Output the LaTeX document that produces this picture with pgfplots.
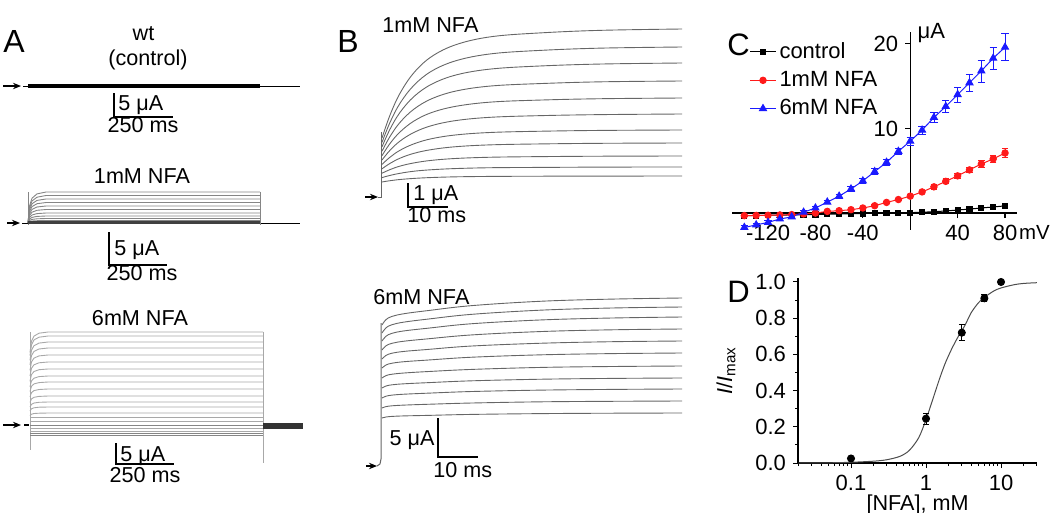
\documentclass[border=0pt]{standalone}
\usepackage{pgfplots}
\pgfplotsset{compat=1.18}
\usepackage{pgfplotstable}
\usepackage{fontspec}
\setmainfont{Liberation Sans}
\usetikzlibrary{arrows.meta}

\definecolor{trA}{HTML}{858585}
\definecolor{trAl}{HTML}{A8A8A8}
\definecolor{trB}{HTML}{666666}
\definecolor{ivred}{HTML}{FF1A1A}
\definecolor{ivblue}{HTML}{1A1AFF}

\newcommand{\ft}{\fontsize{10.8}{13}\selectfont}
\newcommand{\fk}{\fontsize{11}{13}\selectfont}
\newcommand{\fl}{\fontsize{16}{19}\selectfont}

% panel C: I-V curves (mV, uA)
\pgfplotstableread{
V    ctl    rm     re    bm     be
-140 -0.30 -0.30 0.05 -1.70 0.20
-130 -0.28 -0.28 0.05 -1.40 0.20
-120 -0.26 -0.26 0.05 -1.10 0.20
-110 -0.24 -0.22 0.05 -0.70 0.20
-100 -0.22 -0.18 0.05 -0.45 0.20
-90  -0.20 -0.10 0.05  0.10 0.20
-80  -0.17  0.00 0.05  0.60 0.20
-70  -0.14  0.20 0.05  1.30 0.20
-60  -0.11  0.28 0.05  2.00 0.25
-50  -0.08  0.40 0.05  2.85 0.30
-40  -0.05  0.60 0.05  3.80 0.30
-30  -0.02  0.87 0.10  4.90 0.35
-20   0.00  1.26 0.10  6.00 0.40
-10   0.02  1.60 0.15  7.30 0.40
0     0.05  2.00 0.20  8.50 0.50
10    0.10  2.50 0.20  9.80 0.50
20    0.16  3.10 0.25 11.30 0.60
30    0.25  3.75 0.30 12.60 0.70
40    0.36  4.40 0.30 14.00 0.90
50    0.47  5.10 0.35 15.40 1.00
60    0.60  5.80 0.40 16.80 1.30
70    0.72  6.40 0.45 18.30 1.30
80    0.85  7.10 0.50 19.60 1.60
}\ivdata

% panel D: dose response
\pgfplotstableread{
c    y     e
0.1  0.025 0.005
1    0.245 0.030
3    0.720 0.045
6    0.910 0.020
10   1.000 0.010
}\dosedata
\pgfplotstableread{
c    y
0.02 0.000
0.05 0.001
0.1  0.004
0.2  0.010
0.3  0.018
0.45 0.037
0.6  0.070
0.8  0.140
1.0  0.240
1.25 0.360
1.5  0.460
1.8  0.550
2.2  0.630
2.7  0.700
3.3  0.760
4.0  0.830
5.0  0.885
6.0  0.915
8.0  0.950
10   0.967
15   0.985
20   0.992
30   0.996
}\fitdata

\pgfplotsset{
  trA/.style={no marks, color=trA, line width=0.45pt},
  trAl/.style={no marks, color=trAl, line width=0.45pt},
  trB/.style={no marks, smooth, tension=0.6, color=trB, line width=0.45pt},
  bar/.style={no marks, black, line width=0.6pt},
  arr/.style={no marks, black, line width=0.6pt, -{Stealth[length=4pt,width=3.2pt]}},
}

\begin{document}
\begin{tikzpicture}
\useasboundingbox (0,0) rectangle (525pt,-256.5pt);

% canvas in pixel units for the trace panels A and B
\begin{axis}[
  at={(0,0)}, anchor=north west,
  scale only axis, width=525pt, height=256.5pt,
  xmin=0, xmax=1050, ymin=0, ymax=513, y dir=reverse,
  hide axis, clip=false,
]
% ---------- A: wt control ----------
\addplot[arr] coordinates {(3,86) (21,86)};
\addplot[no marks, black, line width=0.4pt] coordinates {(23,86) (300,86)};
\addplot[no marks, black, line width=2pt] coordinates {(28,85.5) (260,85.5)};
\addplot[bar] coordinates {(114,93) (114,117) (173,117)};

% ---------- A: 1mM NFA ----------
\addplot[arr] coordinates {(7,223) (20,223)};
\addplot[no marks, black, line width=0.4pt] coordinates {(22,223) (300,223)};
\addplot[trA] coordinates {(28,192) (28,225)};
\addplot[trA] coordinates {(260,192) (260,225)};
\addplot[trA] coordinates {(28,223) (29.5,206) (32,198.2) (37,193.9) (46,192) (260,192)};
\addplot[trA] coordinates {(28,223) (29.5,207.9) (32,201) (37,197.2) (46,195.5) (260,195.5)};
\addplot[trA] coordinates {(28,223) (29.5,209.8) (32,203.8) (37,200.4) (46,199) (260,199)};
\addplot[trA] coordinates {(28,223) (29.5,211.7) (32,206.6) (37,203.7) (46,202.5) (260,202.5)};
\addplot[trA] coordinates {(28,223) (29.5,213.7) (32,209.4) (37,207) (46,206) (260,206)};
\addplot[trA] coordinates {(28,223) (29.5,215.6) (32,212.2) (37,210.3) (46,209.5) (260,209.5)};
\addplot[trA] coordinates {(28,223) (29.5,217.5) (32,215) (37,213.6) (46,213) (260,213)};
\addplot[trA] coordinates {(28,223) (29.5,219.2) (32,217.4) (37,216.4) (46,216) (260,216)};
\addplot[trA] coordinates {(28,223) (29.5,220.5) (32,219.4) (37,218.8) (46,218.5) (260,218.5)};
\addplot[trA] coordinates {(28,223) (29.5,221.6) (32,221) (37,220.7) (46,220.5) (260,220.5)};
\addplot[no marks, color=black!75, line width=1.2pt] coordinates {(28,222.5) (260,222.5)};
\addplot[bar] coordinates {(109,232) (109,265) (167,265)};

% ---------- A: 6mM NFA ----------
\addplot[arr] coordinates {(3,425) (21,425)};
\addplot[no marks, black, line width=1.4pt] coordinates {(24,425) (29,425)};
\addplot[trAl] coordinates {(30,332) (30,450)};
\addplot[trAl] coordinates {(263,332) (263,463)};
\addplot[trAl] coordinates {(30,352.5) (31.5,341.2) (34,336.1) (39,333.2) (48,332) (263,332)};
\addplot[trAl] coordinates {(30,355.6) (31.5,344.8) (34,339.9) (39,337.2) (48,336) (263,336)};
\addplot[trAl] coordinates {(30,360.3) (31.5,350.2) (34,345.7) (39,343.1) (48,342) (263,342)};
\addplot[trAl] coordinates {(30,364.9) (31.5,355.6) (34,351.4) (39,349) (48,348) (263,348)};
\addplot[trAl] coordinates {(30,370.4) (31.5,361.9) (34,358.1) (39,355.9) (48,355) (263,355)};
\addplot[trAl] coordinates {(30,375.9) (31.5,368.2) (34,364.8) (39,362.8) (48,362) (263,362)};
\addplot[trAl] coordinates {(30,381.3) (31.5,374.5) (34,371.5) (39,369.7) (48,369) (263,369)};
\addplot[trAl] coordinates {(30,386.8) (31.5,380.9) (34,378.2) (39,376.6) (48,376) (263,376)};
\addplot[trAl] coordinates {(30,391.5) (31.5,386.3) (34,383.9) (39,382.6) (48,382) (263,382)};
\addplot[trAl] coordinates {(30,396.9) (31.5,392.6) (34,390.6) (39,389.5) (48,389) (263,389)};
\addplot[trAl] coordinates {(30,402.4) (31.5,398.9) (34,397.3) (39,396.4) (48,396) (263,396)};
\addplot[trAl] coordinates {(30,407.1) (31.5,404.3) (34,403) (39,402.3) (48,402) (263,402)};
\addplot[trAl] coordinates {(30,411) (31.5,408.8) (34,407.8) (39,407.2) (48,407) (263,407)};
\addplot[trAl] coordinates {(30,415.6) (31.5,414.2) (34,413.5) (39,413.2) (48,413) (263,413)};
\addplot[trAl] coordinates {(30,417) (263,417)};
\addplot[trAl] coordinates {(30,421) (263,421)};
\addplot[trA] coordinates {(30,425) (263,425)};
\addplot[trAl] coordinates {(30,428) (263,428)};
\addplot[trAl] coordinates {(30,431) (263,431)};
\addplot[trA] coordinates {(30,433) (263,433)};
\addplot[trA] coordinates {(30,435) (263,435)};
\addplot[no marks, color=black!80, line width=3pt] coordinates {(263,426) (303,426)};
\addplot[bar] coordinates {(116,443) (116,464) (174,464)};

% ---------- B: 1mM NFA ----------
\addplot[arr] coordinates {(365,197) (378,197)};
\addplot[no marks, color=trB, line width=0.5pt] coordinates {(378,197) (381,197) (381,132)};
\addplot[trB] coordinates {(382,138) (390,115.1) (400,93.3) (414,72.6) (432,56.3) (457,44.3) (492,36.6) (542,32.8) (602,30.3) (682,29)};
\addplot[trB] coordinates {(382,142.4) (390,122.4) (400,103.3) (414,85.2) (432,70.9) (457,60.4) (492,53.7) (542,50.3) (602,48.1) (682,47)};
\addplot[trB] coordinates {(382,146.8) (390,129.2) (400,112.4) (414,96.5) (432,84) (457,74.7) (492,68.9) (542,65.9) (602,64) (682,63)};
\addplot[trB] coordinates {(382,151.2) (390,136.5) (400,122.4) (414,109.1) (432,98.6) (457,90.8) (492,85.9) (542,83.5) (602,81.8) (682,81)};
\addplot[trB] coordinates {(382,155.6) (390,143.5) (400,132) (414,121) (432,112.4) (457,106.1) (492,102) (542,100) (602,98.7) (682,98)};
\addplot[trB] coordinates {(382,160) (390,150.3) (400,141.1) (414,132.4) (432,125.5) (457,120.4) (492,117.2) (542,115.6) (602,114.6) (682,114)};
\addplot[trB] coordinates {(382,164.4) (390,157.2) (400,150.3) (414,143.8) (432,138.6) (457,134.8) (492,132.4) (542,131.2) (602,130.4) (682,130)};
\addplot[trB] coordinates {(382,168.8) (390,163.4) (400,158.2) (414,153.3) (432,149.5) (457,146.6) (492,144.8) (542,143.9) (602,143.3) (682,143)};
\addplot[trB] coordinates {(382,173.2) (390,169.6) (400,166.1) (414,162.9) (432,160.3) (457,158.4) (492,157.2) (542,156.6) (602,156.2) (682,156)};
\addplot[trB] coordinates {(382,177.6) (390,175.4) (400,173.3) (414,171.2) (432,169.7) (457,168.5) (492,167.7) (542,167.4) (602,167.1) (682,167)};
\addplot[trB] coordinates {(382,182) (390,180.7) (400,179.5) (414,178.4) (432,177.5) (457,176.8) (492,176.4) (542,176.2) (602,176.1) (682,176)};
\addplot[bar] coordinates {(408,183) (408,207) (448,207)};

% ---------- B: 6mM NFA ----------
\addplot[arr] coordinates {(366,466) (377,466)};
\addplot[no marks, color=trB, line width=0.5pt] coordinates {(377,466) (380,464) (381,459) (381,323)};
\addplot[trB] coordinates {(382,325) (386,319.6) (392,316.4) (404,313.7) (427,310.7) (472,305.6) (542,301.2) (612,299.1) (682,298)};
\addplot[trB] coordinates {(382,333) (386,327.8) (392,324.7) (404,322.1) (427,319.2) (472,314.3) (542,310.1) (612,308) (682,307)};
\addplot[trB] coordinates {(382,341) (386,336.2) (392,333.3) (404,330.9) (427,328.3) (472,323.7) (542,319.9) (612,318) (682,317)};
\addplot[trB] coordinates {(382,350) (386,345.8) (392,343.3) (404,341.2) (427,338.9) (472,334.9) (542,331.5) (612,329.8) (682,329)};
\addplot[trB] coordinates {(382,359) (386,355.4) (392,353.2) (404,351.4) (427,349.5) (472,346) (542,343.2) (612,341.7) (682,341)};
\addplot[trB] coordinates {(382,368) (386,365) (392,363.2) (404,361.7) (427,360.1) (472,357.2) (542,354.8) (612,353.6) (682,353)};
\addplot[trB] coordinates {(382,378) (386,375.6) (392,374.2) (404,373) (427,371.6) (472,369.4) (542,367.4) (612,366.5) (682,366)};
\addplot[trB] coordinates {(382,388) (386,386) (392,384.8) (404,383.8) (427,382.7) (472,380.8) (542,379.2) (612,378.4) (682,378)};
\addplot[trB] coordinates {(382,398) (386,396.2) (392,395.1) (404,394.2) (427,393.2) (472,391.5) (542,390.1) (612,389.4) (682,389)};
\addplot[trB] coordinates {(382,408) (386,406.6) (392,405.8) (404,405.1) (427,404.3) (472,403) (542,401.8) (612,401.3) (682,401)};
\addplot[trB] coordinates {(382,418) (386,417) (392,416.4) (404,415.9) (427,415.4) (472,414.4) (542,413.6) (612,413.2) (682,413)};
\addplot[bar] coordinates {(438,418) (438,457) (478,457)};

% ---------- texts ----------
\begin{scope}[every node/.style={inner sep=0pt, font=\ft}]
\node[anchor=base west, font=\fl] at (axis cs:3,52) {A};
\node[anchor=base] at (axis cs:143.5,40) {wt};
\node[anchor=base] at (axis cs:148,65) {(control)};
\node[anchor=base west] at (axis cs:118,110) {5 μA};
\node[anchor=base] at (axis cs:143,132) {250 ms};
\node[anchor=base] at (axis cs:142,183) {1mM NFA};
\node[anchor=base west] at (axis cs:114,255) {5 μA};
\node[anchor=base] at (axis cs:142,280) {250 ms};
\node[anchor=base] at (axis cs:140,325) {6mM NFA};
\node[anchor=base west] at (axis cs:120,461) {5 μA};
\node[anchor=base] at (axis cs:145,482) {250 ms};
\node[anchor=base west, font=\fl] at (axis cs:337,52) {B};
\node[anchor=base west] at (axis cs:382,32) {1mM NFA};
\node[anchor=base west] at (axis cs:413,200) {1 μA};
\node[anchor=base west] at (axis cs:407,222) {10 ms};
\node[anchor=base west] at (axis cs:373,304) {6mM NFA};
\node[anchor=base east] at (axis cs:435,445) {5 μA};
\node[anchor=base west] at (axis cs:433,477) {10 ms};
\node[anchor=base west, font=\fontsize{15.5}{18}\selectfont] at (axis cs:727,55) {C};
\node[anchor=base west, font=\fontsize{15.5}{18}\selectfont] at (axis cs:727,302) {D};
\end{scope}
\end{axis}

% ---------- C: I-V ----------
\begin{axis}[
  at={(366pt,-115pt)}, anchor=south west,
  scale only axis, width=142.5pt, height=99pt,
  xmin=-150.4, xmax=90.1, ymin=-2.0, ymax=21.4,
  axis lines=middle, axis line style={-, line width=0.6pt},
  xtick={-120,-80,-40,40,80}, ytick={10,20},
  tick align=outside, major tick length=2.5pt,
  every tick/.style={black, line width=0.6pt},
  tick label style={font=\fk},
  /pgf/number format/assume math mode=true,
  clip=false,
  legend style={at={(rel axis cs:0.06,0.965)}, anchor=north west, draw=none, fill=none,
    font=\fontsize{11}{13}\selectfont, row sep=2pt, inner sep=0pt, nodes={inner sep=1.5pt}},
  legend cell align=left,
  legend image code/.code={\draw[mark repeat=2, mark phase=2, #1] plot coordinates {(0pt,0pt) (6.5pt,0pt) (13pt,0pt)};},
]
\addplot[black, line width=0.5pt, mark=square*, mark size=1.3pt] table[x=V, y=ctl] {\ivdata};
\addlegendentry{control}
\addplot[ivred, line width=0.5pt, mark=*, mark size=1.6pt,
  error bars/.cd, y dir=both, y explicit, error bar style={line width=0.4pt},
  error mark options={rotate=90, mark size=1.6pt, line width=0.4pt}]
  table[x=V, y=rm, y error=re] {\ivdata};
\addlegendentry{1mM NFA}
\addplot[ivblue, line width=0.5pt, mark=triangle*, mark size=2pt,
  error bars/.cd, y dir=both, y explicit, error bar style={line width=0.4pt},
  error mark options={rotate=90, mark size=1.8pt, line width=0.4pt}]
  table[x=V, y=bm, y error=be] {\ivdata};
\addlegendentry{6mM NFA}
\node[anchor=west, inner sep=0pt, font=\fk] at (axis cs:6,21.3) {μA};
\node[anchor=west, inner sep=0pt, font=\fontsize{10.2}{12}\selectfont] at (axis cs:91.5,-2.25) {mV};
\end{axis}

% ---------- D: dose response ----------
\begin{axis}[
  at={(399pt,-231.5pt)}, anchor=south west,
  scale only axis, width=119.5pt, height=92.5pt,
  xmode=log, xmin=0.01965, xmax=30.2, ymin=0, ymax=1.022,
  axis lines=left, axis line style={-, line width=0.6pt},
  xtick={0.1,1,10}, xticklabels={0.1,1,10},
  minor xtick={0.02,0.03,0.04,0.05,0.06,0.07,0.08,0.09,0.2,0.3,0.4,0.5,0.6,0.7,0.8,0.9,2,3,4,5,6,7,8,9,20,30},
  ytick={0,0.2,0.4,0.6,0.8,1.0}, minor ytick={0.1,0.3,0.5,0.7,0.9},
  yticklabel style={/pgf/number format/.cd, fixed, fixed zerofill, precision=1},
  tick align=outside, major tick length=2.5pt, minor tick length=1.5pt,
  every tick/.style={black, line width=0.5pt},
  tick label style={font=\fk},
  /pgf/number format/assume math mode=true,
  xlabel={[NFA], mM}, ylabel={\textit{I}/\textit{I}\textsubscript{max}},
  label style={font=\ft}, ylabel shift=3pt, xlabel shift=-5pt,
  clip=false,
]
\addplot[black!70, line width=0.5pt, smooth, no marks] table[x=c, y=y] {\fitdata};
\addplot[black, only marks, mark=*, mark size=1.8pt,
  error bars/.cd, y dir=both, y explicit, error bar style={line width=0.4pt},
  error mark options={rotate=90, mark size=1.5pt, line width=0.4pt}]
  table[x=c, y=y, y error=e] {\dosedata};
\end{axis}
\end{tikzpicture}
\end{document}
